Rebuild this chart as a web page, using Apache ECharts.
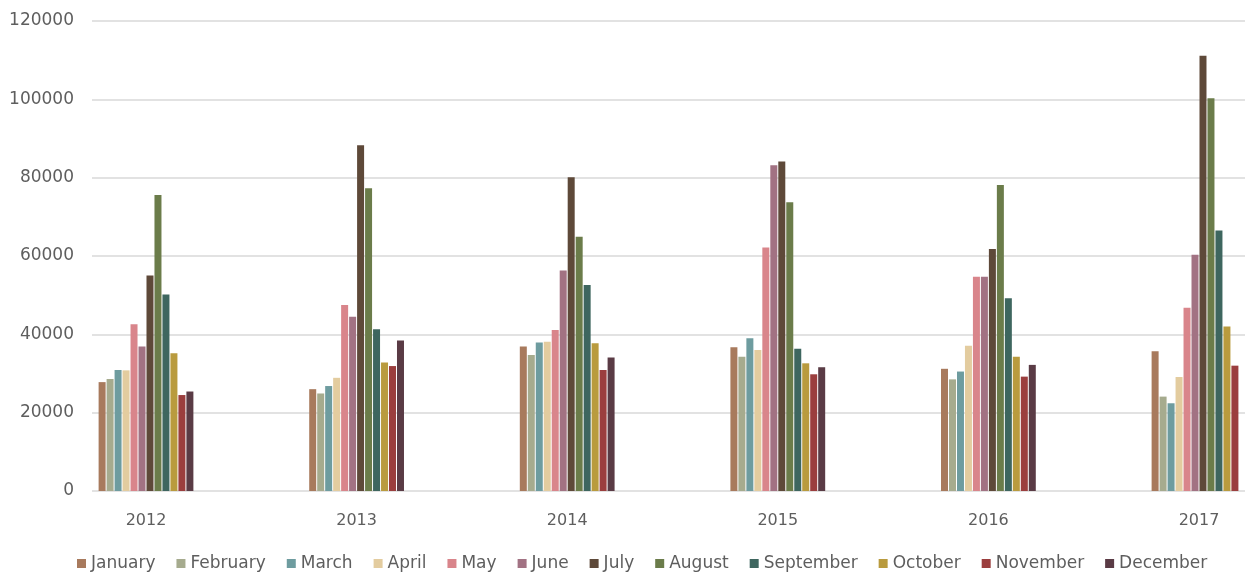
<!DOCTYPE html>
<html>
<head>
<meta charset="utf-8">
<title>Monthly totals by year</title>
<script src="https://cdn.jsdelivr.net/npm/echarts@6/dist/echarts.min.js"></script>
<style>
  html, body { margin: 0; padding: 0; background: #ffffff; }
  #chart { width: 1253px; height: 573px; }
</style>
</head>
<body>
<div id="chart"></div>
<script>
// Years on the category axis
const years = ['2012', '2013', '2014', '2015', '2016', '2017'];

// One series per month, values per year (2012 .. 2017)
const months = ['January', 'February', 'March', 'April', 'May', 'June',
                'July', 'August', 'September', 'October', 'November', 'December'];

const january   = [27800, 26000, 36900, 36700, 31200, 35700];
const february  = [28600, 24900, 34700, 34300, 28500, 24100];
const march     = [30900, 26800, 37900, 39000, 30500, 22400];
const april     = [30800, 28900, 38100, 36000, 37100, 29100];
const may       = [42600, 47500, 41100, 62200, 54700, 46800];
const june      = [36900, 44500, 56300, 83200, 54700, 60300];
const july      = [55000, 88300, 80100, 84100, 61800, 111100];
const august    = [75600, 77300, 64900, 73700, 78100, 100300];
const september = [50200, 41300, 52600, 36300, 49200, 66500];
const october   = [35200, 32800, 37700, 32600, 34300, 42000];
const november  = [24500, 31900, 30900, 29800, 29200, 32000];
const december  = [25400, 38400, 34100, 31600, 32200, null];

// Value-axis ticks
const yTicks = [0, 20000, 40000, 60000, 80000, 100000, 120000];

const monthValues = [january, february, march, april, may, june,
                     july, august, september, october, november, december];

const palette = ['#a87a5d', '#a6ab8e', '#6e9c9f', '#e3cc9f', '#d9858b', '#a27283',
                 '#5e4939', '#6b7c4a', '#3e665f', '#b99b3e', '#9b3e3e', '#5a3b45'];

const font = 'DejaVu Sans';
const textColor = '#5e5e5e';

const chart = echarts.init(document.getElementById('chart'), null, { renderer: 'canvas' });

const yMin = yTicks[0];
const yMax = yTicks[yTicks.length - 1];
const yStep = yTicks[1] - yTicks[0];

const option = {
  backgroundColor: '#ffffff',
  animation: false,
  color: palette,
  grid: [
    // frame: value axis labels and gridlines
    { left: 92, right: 8, top: 21, bottom: 82, outerBoundsMode: 'none' },
    // plot of the bars, years spaced evenly inside the frame
    { left: 146, right: 54, top: 21, bottom: 82, outerBoundsMode: 'none' }
  ],
  legend: {
    data: months,
    left: 72,
    top: 550,
    icon: 'rect',
    itemWidth: 9,
    itemHeight: 9,
    itemGap: 21,
    textStyle: { color: textColor, fontSize: 17, fontFamily: font }
  },
  xAxis: [
    { gridIndex: 0, type: 'value', min: 0, max: 1, show: false },
    {
      gridIndex: 1,
      type: 'category',
      data: years,
      boundaryGap: false,
      axisLine: { show: false },
      axisTick: { show: false },
      axisLabel: { color: textColor, fontSize: 16, fontFamily: font, margin: 22 },
      splitLine: { show: false }
    }
  ],
  yAxis: [
    {
      gridIndex: 0,
      type: 'value',
      min: yMin,
      max: yMax,
      interval: yStep,
      axisLine: { show: false },
      axisTick: { show: false },
      axisLabel: {
        color: textColor, fontSize: 17, fontFamily: font, margin: 18,
        formatter: (v) => String(v)
      },
      splitLine: { show: true, lineStyle: { color: '#d9d9d9', width: 1.5 } }
    },
    {
      gridIndex: 1,
      type: 'value',
      min: yMin,
      max: yMax,
      interval: yStep,
      show: false,
      splitLine: { show: false }
    }
  ],
  series: months.map((name, i) => ({
    name: name,
    type: 'bar',
    xAxisIndex: 1,
    yAxisIndex: 1,
    data: monthValues[i],
    barWidth: 7,
    barGap: '14%',
    itemStyle: { color: palette[i] }
  }))
};

chart.setOption(option);
</script>
</body>
</html>
